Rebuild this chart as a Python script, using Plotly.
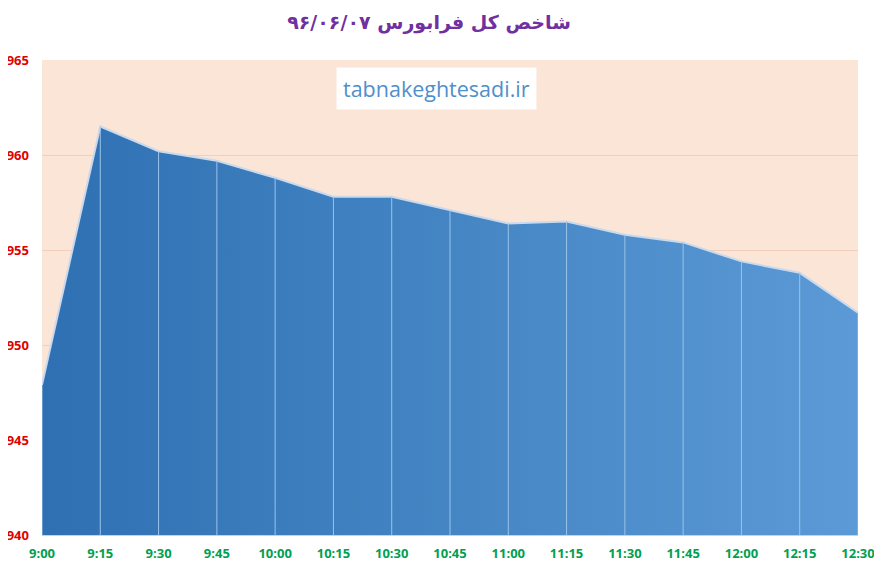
import plotly.graph_objects as go

# data
times = ["9:00", "9:15", "9:30", "9:45", "10:00", "10:15", "10:30", "10:45",
         "11:00", "11:15", "11:30", "11:45", "12:00", "12:15", "12:30"]
index_values = [947.9, 961.5, 960.2, 959.7, 958.8, 957.8, 957.8, 957.1,
                956.4, 956.5, 955.8, 955.4, 954.4, 953.8, 951.7]
y_ticks = [940, 945, 950, 955, 960, 965]

xs = list(range(len(times)))

# drop lines inside the area
drop_x = []
drop_y = []
for x, v in zip(xs, index_values):
    drop_x += [x, x, None]
    drop_y += [940, v, None]

fig = go.Figure()

fig.add_trace(go.Scatter(
    x=xs, y=index_values,
    mode="lines",
    line=dict(color="#c9d9ee", width=2),
    fill="tozeroy",
    fillgradient=dict(type="horizontal",
                      colorscale=[[0, "#2e70b2"], [1, "#5b9ad6"]]),
    hoverinfo="skip",
    showlegend=False))

fig.add_trace(go.Scatter(
    x=drop_x, y=drop_y,
    mode="lines",
    line=dict(color="#9cc3ea", width=1),
    hoverinfo="skip",
    showlegend=False))

# page body has an 8px margin, so the figure is a bit smaller than the window
fig.update_layout(
    width=874, height=558,
    autosize=False,
    paper_bgcolor="white",
    plot_bgcolor="#fbe5d6",
    margin=dict(l=34, r=24, t=52, b=31),
    title=dict(
        text="۹۶/۰۶/۰۷ شاخص کل فرابورس",
        x=0.4817, xanchor="center", y=0.975, yanchor="middle",
        font=dict(family="DejaVu Sans", size=19, color="#7030a0", weight="bold")),
    xaxis=dict(
        range=[0, len(times) - 1],
        tickmode="array", tickvals=xs, ticktext=times,
        showgrid=False, zeroline=False, automargin=False,
        showline=True, linecolor="#d0d0d0", linewidth=1,
        ticks="", ticklabelstandoff=6,
        tickfont=dict(family="Open Sans", size=13, color="#00a050", weight="bold")),
    yaxis=dict(
        range=[940, 965],
        tickmode="array", tickvals=y_ticks,
        showgrid=True, gridcolor="#f1cfbb", gridwidth=1,
        zeroline=False, showline=False, ticks="", automargin=False,
        ticklabelstandoff=12,
        tickfont=dict(family="Open Sans", size=13, color="#e00000", weight="bold")),
    annotations=[dict(
        text="tabnakeghtesadi.ir",
        xref="paper", yref="paper",
        x=0.484, y=0.941, xanchor="center", yanchor="middle",
        showarrow=False,
        bgcolor="white", borderpad=6,
        font=dict(family="Open Sans", size=21.5, color="#4f8fcb"))],
)

fig.write_html("out.html")
